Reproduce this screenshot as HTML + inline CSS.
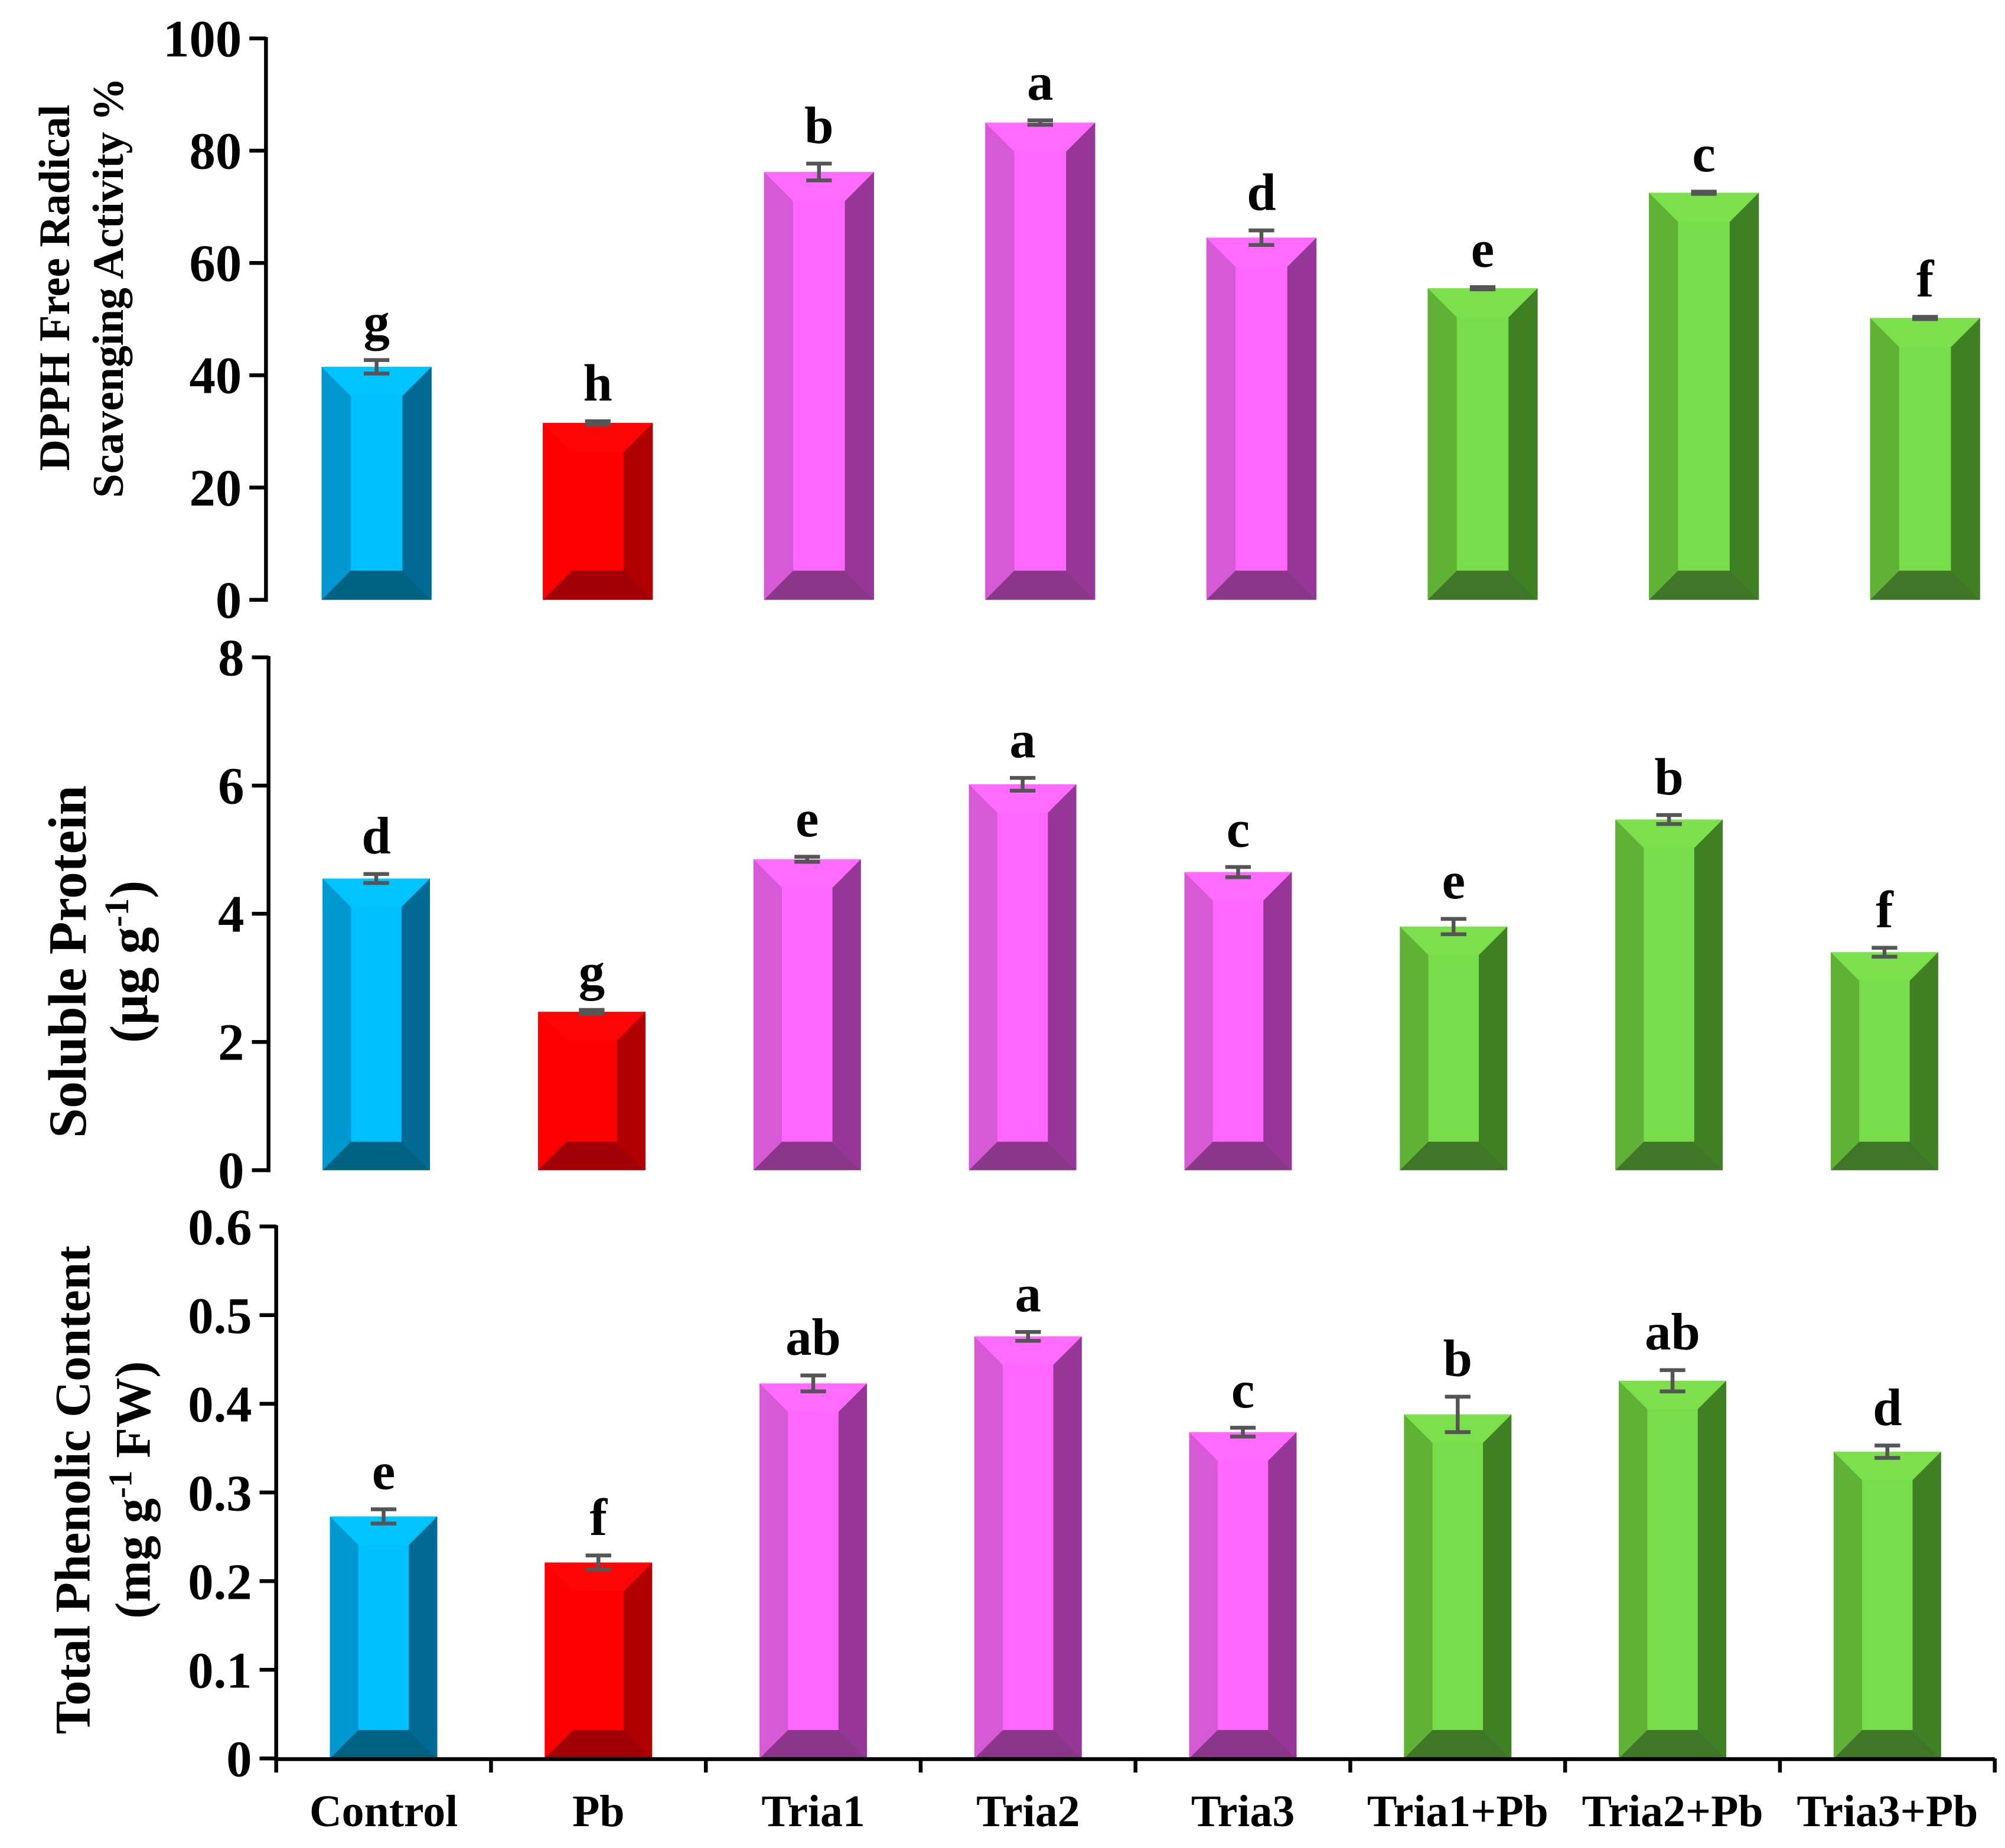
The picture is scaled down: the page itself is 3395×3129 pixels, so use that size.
<!DOCTYPE html>
<html><head><meta charset="utf-8"><style>
html,body{margin:0;padding:0;background:#fff;}
svg{display:block;}
text{font-family:"Liberation Serif",serif;font-weight:bold;fill:#000;}
</style></head><body>
<svg id="chart" width="3395" height="3129" viewBox="0 0 1568 1445" preserveAspectRatio="none" xmlns="http://www.w3.org/2000/svg">
<g id="root"></g>
</svg>
<script>
const categories = ["Control","Pb","Tria1","Tria2","Tria3","Tria1+Pb","Tria2+Pb","Tria3+Pb"];
const dpphValues = [41.5,31.5,76.2,85.0,64.5,55.5,72.5,50.2];
const dpphErrors = [1.2,0.3,1.5,0.4,1.3,0.2,0.2,0.2];
const dpphLetters = ["g","h","b","a","d","e","c","f"];
const dpphTicks = [0,20,40,60,80,100];
const proteinValues = [4.55,2.47,4.85,6.02,4.65,3.8,5.47,3.4];
const proteinErrors = [0.07,0.03,0.04,0.1,0.08,0.12,0.07,0.07];
const proteinLetters = ["d","g","e","a","c","e","b","f"];
const proteinTicks = [0,2,4,6,8];
const phenolValues = [0.273,0.221,0.423,0.476,0.368,0.388,0.426,0.346];
const phenolErrors = [0.008,0.008,0.009,0.005,0.005,0.02,0.012,0.007];
const phenolLetters = ["e","f","ab","a","c","b","ab","d"];
const phenolTicks = ["0","0.1","0.2","0.3","0.4","0.5","0.6"];

const NS = "http://www.w3.org/2000/svg";
const root = document.getElementById("root");
function mk(tag, attrs, parent){
  const e = document.createElementNS(NS, tag);
  for (const k in attrs) e.setAttribute(k, attrs[k]);
  (parent||root).appendChild(e);
  return e;
}
const palettes = [
  {front:"#00BFFF",top:"#00C4FF",left:"#0098D0",right:"#006A94",bottom:"#006282"},
  {front:"#FF0000",top:"#FF0606",left:"#FF0000",right:"#B00000",bottom:"#A00006"},
  {front:"#FF66FF",top:"#FF6BFF",left:"#D659D6",right:"#963696",bottom:"#8A378A"},
  {front:"#78DD4A",top:"#7BE04C",left:"#60B236",right:"#3F8024",bottom:"#3F7628"}
];
const colorIdx = [0,1,2,2,2,3,3,3];

function panel(cfg){
  const g = mk("g", {});
  
  
  const ymax = cfg.max;
  const yScale = v => cfg.y1 - (v/ymax)*(cfg.y1-cfg.y0);
  const xCenter = i => cfg.x0 + cfg.cw*(i+0.5);
  const ax = mk("line",{x1:cfg.x0,y1:cfg.y0-1,x2:cfg.x0,y2:cfg.y1+1.5,stroke:"#000","stroke-width":3},g);
  
  
  cfg.ticks.forEach(t=>{
    const v = parseFloat(t);
    const y = yScale(v);
    const tk = mk("line",{x1:cfg.x0-13,y1:y,x2:cfg.x0,y2:y,stroke:"#000","stroke-width":3},g);
    
    
    const tl = mk("text",{x:cfg.x0-19,y:y+14,"text-anchor":"end","font-size":cfg.tickFs},g);
    
    
    tl.textContent = t;
  });
  cfg.values.forEach((v,i)=>{
    const p = palettes[colorIdx[i]];
    const cx = xCenter(i), w = cfg.bw, L = cx-w/2, R = cx+w/2;
    const T = yScale(v), B = cfg.y1;
    const b = Math.min(w*0.265, (B-T)/2);
    const bg = mk("g",{},g);
    
    
    mk("rect",{x:L,y:T,width:w,height:B-T,fill:p.front},bg);
    mk("polygon",{points:`${L},${T} ${R},${T} ${R-b},${T+b} ${L+b},${T+b}`,fill:p.top},bg);
    mk("polygon",{points:`${L},${T} ${L+b},${T+b} ${L+b},${B-b} ${L},${B}`,fill:p.left},bg);
    mk("polygon",{points:`${R},${T} ${R},${B} ${R-b},${B-b} ${R-b},${T+b}`,fill:p.right},bg);
    mk("polygon",{points:`${L},${B} ${L+b},${B-b} ${R-b},${B-b} ${R},${B}`,fill:p.bottom},bg);
    const e = cfg.errors[i];
    const yt = yScale(v+e), yb = yScale(v-e);
    const eg = mk("g",{stroke:"#555","stroke-width":3},g);
    
    
    mk("line",{x1:cx,y1:yt,x2:cx,y2:yb},eg);
    mk("line",{x1:cx-10,y1:yt,x2:cx+10,y2:yt},eg);
    mk("line",{x1:cx-10,y1:yb,x2:cx+10,y2:yb},eg);
    const lt = mk("text",{x:cx,y:yt-16,"text-anchor":"middle","font-size":41},g);
    
    
    lt.textContent = cfg.letters[i];
  });
  const tt = mk("text",{transform:`translate(${cfg.tx1},${cfg.ty}) rotate(-90)`,"text-anchor":"middle","font-size":cfg.tfs},g);
  
  
  tt.innerHTML = cfg.t1;
  const tt2 = mk("text",{transform:`translate(${cfg.tx2},${cfg.ty}) rotate(-90)`,"text-anchor":"middle","font-size":cfg.tfs},g);
  
  
  tt2.innerHTML = cfg.t2;
  return {xCenter, yScale};
}

panel({name:"dpph-panel",x0:208,cw:173,bw:86,y0:30,y1:469,max:100,ticks:dpphTicks.map(String),tickFs:41,
  values:dpphValues,errors:dpphErrors,letters:dpphLetters,
  t1:"DPPH Free Radical",t2:"Scavenging Activity %",tx1:54,tx2:96,ty:225,tfs:34});
panel({name:"protein-panel",x0:210,cw:168.5,bw:84,y0:514,y1:915,max:8,ticks:proteinTicks.map(String),tickFs:41,
  values:proteinValues,errors:proteinErrors,letters:proteinLetters,
  t1:"Soluble Protein",t2:'(µg g<tspan baseline-shift="super" font-size="27">-1</tspan>)',tx1:67,tx2:115,ty:752,tfs:42});
const p3 = panel({name:"phenolic-panel",x0:216,cw:168,bw:84,y0:959,y1:1375,max:0.6,ticks:phenolTicks,tickFs:40,
  values:phenolValues,errors:phenolErrors,letters:phenolLetters,
  t1:"Total Phenolic Content",t2:'(mg g<tspan baseline-shift="super" font-size="26">-1</tspan> FW)',tx1:70,tx2:117,ty:1165,tfs:39});

const xa = mk("line",{x1:214.5,y1:1375.5,x2:1560,y2:1375.5,stroke:"#000","stroke-width":3});


for (let k=0;k<=categories.length;k++){
  const x = 216 + 168*k;
  const t = mk("line",{x1:x,y1:1375,x2:x,y2:1386,stroke:"#000","stroke-width":3});
  
  
}
categories.forEach((c,i)=>{
  const t = mk("text",{x:p3.xCenter(i),y:1428,"text-anchor":"middle","font-size":35});
  
  
  t.textContent = c;
});
</script>
</body></html>
